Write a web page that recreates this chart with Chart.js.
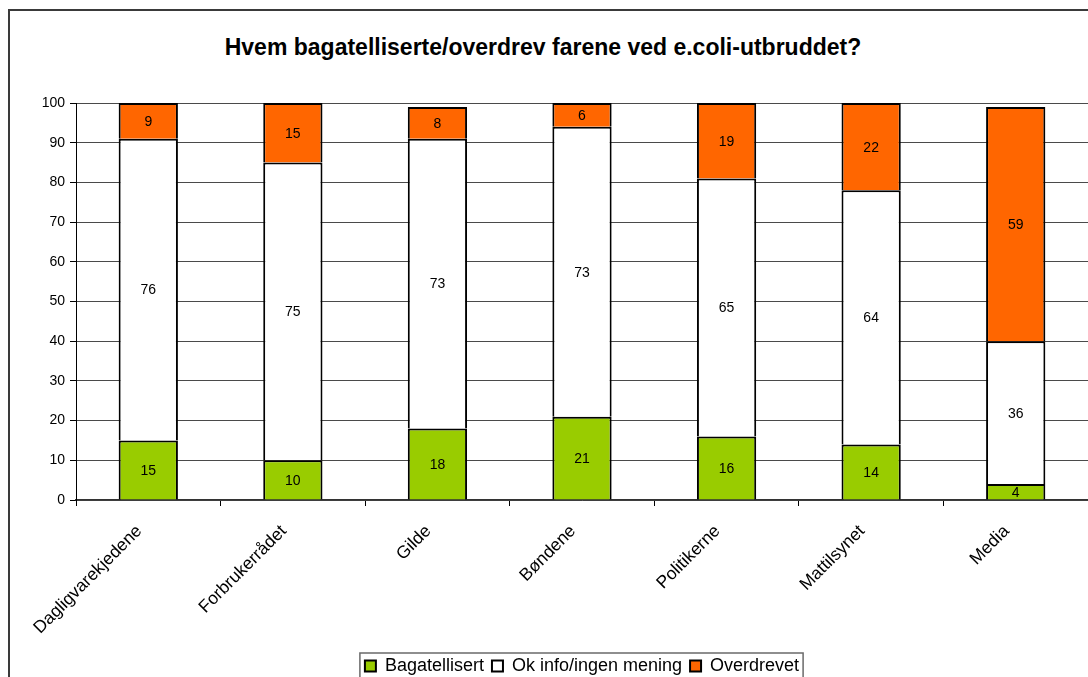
<!DOCTYPE html>
<html lang="no">
<head>
<meta charset="utf-8">
<title>Hvem bagatelliserte/overdrev farene ved e.coli-utbruddet?</title>
<script src="https://cdn.jsdelivr.net/npm/chart.js@4.4.1/dist/chart.umd.min.js"></script>
<style>
    html, body {
        margin: 0;
        padding: 0;
        background: #ffffff;
        overflow: hidden;
        width: 1088px;
        height: 677px;
    }
    .frame {
        position: absolute;
        left: 8px;
        top: 9px;
        width: 1200px;
        height: 720px;
        border-left: 2px solid #3a3a3a;
        border-top: 2px solid #3a3a3a;
    }
    .title {
        position: absolute;
        left: 0;
        top: 34px;
        width: 1086px;
        text-align: center;
        font: bold 23px Arial, "Liberation Sans", sans-serif;
        line-height: 26px;
        color: #000;
    }
    #chart {
        position: absolute;
        left: 10px;
        top: 11px;
    }
</style>
</head>
<body>
<div class="frame"></div>
<div class="title">Hvem bagatelliserte/overdrev farene ved e.coli-utbruddet?</div>
<canvas id="chart" width="1144" height="700"></canvas>

<script>
    const categories = ['Dagligvarekjedene', 'Forbrukerrådet', 'Gilde', 'Bøndene', 'Politikerne', 'Mattilsynet', 'Media'];
    const bagatellisert = [15, 10, 18, 21, 16, 14, 4];
    const okInfo = [76, 75, 73, 73, 65, 64, 36];
    const overdrevet = [9, 15, 8, 6, 19, 22, 59];
    const yTicks = [0, 10, 20, 30, 40, 50, 60, 70, 80, 90, 100];

    const fontFamily = 'Arial, "Liberation Sans", sans-serif';

    // verdiene midt i hver stolpe
    const valueLabels = {
        id: 'valueLabels',
        afterDatasetsDraw(chart) {
            const ctx = chart.ctx;
            ctx.save();
            ctx.font = '14px ' + fontFamily;
            ctx.fillStyle = '#000';
            ctx.textAlign = 'center';
            ctx.textBaseline = 'middle';
            chart.data.datasets.forEach((ds, i) => {
                const meta = chart.getDatasetMeta(i);
                meta.data.forEach((bar, j) => {
                    const v = ds.data[j];
                    if (!v) return;
                    ctx.fillText(String(v), bar.x, (bar.y + bar.base) / 2 + 1);
                });
            });
            ctx.restore();
        }
    };

    // forklaringen sentreres under plottet, ikke under hele lerretet
    const legendCenter = {
        id: 'legendCenter',
        afterLayout(chart) {
            const legend = chart.legend;
            if (!legend) return;
            const shift = (chart.chartArea.left + chart.chartArea.right) / 2 - (legend.left + legend.right) / 2;
            legend.left += shift;
            legend.right += shift;
        }
    };

    // ramme rundt forklaringen
    const legendFrame = {
        id: 'legendFrame',
        afterDraw(chart) {
            const boxes = chart.legend && chart.legend.legendHitBoxes;
            if (!boxes || !boxes.length) return;
            const first = boxes[0];
            const last = boxes[boxes.length - 1];
            const ctx = chart.ctx;
            ctx.save();
            ctx.strokeStyle = '#6a6a6a';
            ctx.lineWidth = 1.5;
            ctx.strokeRect(first.left - 5, first.top - 4, last.left + last.width - first.left + 9, first.height + 20);
            ctx.restore();
        }
    };

    const chart = new Chart(document.getElementById('chart'), {
        type: 'bar',
        data: {
            labels: categories,
            datasets: [
                {
                    label: 'Bagatellisert',
                    data: bagatellisert,
                    backgroundColor: '#99CC00',
                },
                {
                    label: 'Ok info/ingen mening',
                    data: okInfo,
                    backgroundColor: '#FFFFFF',
                },
                {
                    label: 'Overdrevet',
                    data: overdrevet,
                    backgroundColor: '#FF6600',
                }
            ]
        },
        options: {
            responsive: false,
            animation: false,
            layout: {
                padding: {left: 10, right: 66, top: 92, bottom: 26}
            },
            datasets: {
                bar: {
                    borderColor: '#000000',
                    borderWidth: 2,
                    borderSkipped: 'start',
                    barPercentage: 0.41,
                    categoryPercentage: 1.0
                }
            },
            scales: {
                x: {
                    stacked: true,
                    grid: {
                        drawOnChartArea: false,
                        drawTicks: true,
                        tickLength: 6,
                        color: '#000',
                        offset: true
                    },
                    border: {color: '#333', width: 1.5},
                    ticks: {
                        color: '#000',
                        font: {family: fontFamily, size: 17.5},
                        minRotation: 45,
                        maxRotation: 45,
                        autoSkip: false,
                        padding: 15,
                        labelOffset: -9
                    },
                    afterFit: scale => {
                        scale.height = 149;
                    }
                },
                y: {
                    stacked: true,
                    min: 0,
                    max: 100,
                    afterBuildTicks: scale => {
                        scale.ticks = yTicks.map(v => ({value: v}));
                    },
                    grid: {
                        color: '#4a4a4a',
                        lineWidth: 1,
                        tickLength: 6,
                        tickColor: '#000'
                    },
                    border: {color: '#000', width: 1},
                    ticks: {
                        color: '#000',
                        font: {family: fontFamily, size: 14},
                        padding: 5
                    },
                    afterFit: scale => {
                        scale.width = 56;
                    }
                }
            },
            plugins: {
                title: {display: false},
                tooltip: {enabled: false},
                legend: {
                    position: 'bottom',
                    labels: {
                        color: '#000',
                        font: {family: fontFamily, size: 18},
                        boxWidth: 11,
                        boxHeight: 11,
                        padding: 8
                    }
                }
            }
        },
        plugins: [valueLabels, legendCenter, legendFrame]
    });
</script>
</body>
</html>
